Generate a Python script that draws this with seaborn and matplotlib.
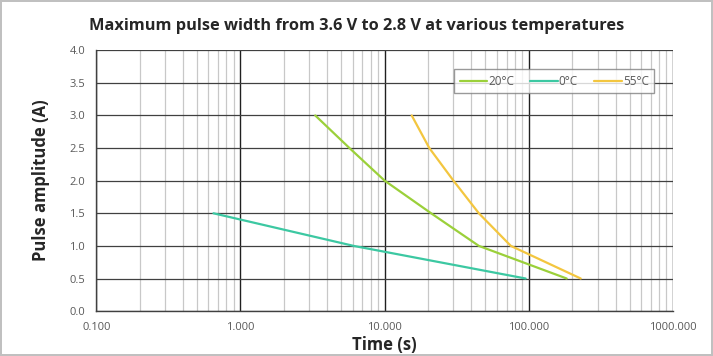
import numpy as np
import pandas as pd
import matplotlib
matplotlib.use('Agg')
import matplotlib.pyplot as plt
import matplotlib.ticker as mticker
import seaborn as sns

# values
amp_20 = [3.0, 2.5, 2.0, 1.5, 1.0, 0.5]
time_20 = [3.3, 5.7, 10.0, 21.0, 45.0, 183.0]

amp_0 = [1.5, 1.0, 0.5]
time_0 = [0.65, 6.1, 95.0]

amp_55 = [3.0, 2.5, 2.0, 1.5, 1.0, 0.5]
time_55 = [15.4, 20.4, 30.0, 45.0, 75.0, 229.0]

series_names = ['20°C', '0°C', '55°C']
series_colors = ['#9BD03A', '#3CC8A2', '#F3C63F']

frames = []
for name, t, a in zip(series_names, [time_20, time_0, time_55], [amp_20, amp_0, amp_55]):
    frames.append(pd.DataFrame({'Time': t, 'Amp': a, 'Temp': name}))
df = pd.concat(frames, ignore_index=True)

sns.set_style('white')
plt.rcParams['font.family'] = ['Open Sans', 'DejaVu Sans']

fig = plt.figure(figsize=(7.13, 3.56), dpi=100)
fig.patch.set_edgecolor('#c0c0c0')
fig.patch.set_linewidth(1.5)
ax = fig.add_axes([0.135, 0.126, 0.809, 0.733])

sns.lineplot(data=df, x='Time', y='Amp', hue='Temp', palette=series_colors,
             sort=False, estimator=None, linewidth=1.6, ax=ax)

ax.set_xscale('log')
ax.set_xlim(0.1, 1000)
ax.set_ylim(0, 4.0)
ax.set_yticks(np.arange(0, 4.01, 0.5))
ax.xaxis.set_major_locator(mticker.LogLocator(base=10, numticks=10))
ax.xaxis.set_minor_locator(mticker.LogLocator(base=10, subs=np.arange(2, 10), numticks=20))
ax.xaxis.set_major_formatter(mticker.FuncFormatter(lambda v, p: f'{v:.3f}'))
ax.xaxis.set_minor_formatter(mticker.NullFormatter())
ax.yaxis.set_major_formatter(mticker.FuncFormatter(lambda v, p: f'{v:.1f}'))

ax.grid(True, which='minor', axis='x', color='#c8c8c8', linewidth=0.9)
ax.grid(True, which='major', axis='x', color='#202020', linewidth=1.0)
ax.grid(True, which='major', axis='y', color='#404040', linewidth=0.9)
ax.set_axisbelow(True)

for side in ['top', 'right']:
    ax.spines[side].set_visible(False)
for side in ['left', 'bottom']:
    ax.spines[side].set_color('#404040')
    ax.spines[side].set_linewidth(1.0)

ax.tick_params(axis='both', which='both', length=0, labelsize=8, colors='#595959', pad=8)

ax.set_xlabel('Time (s)', fontsize=12, fontweight='bold', labelpad=2)
ax.set_ylabel('Pulse amplitude (A)', fontsize=12, fontweight='bold', labelpad=14)
fig.suptitle('Maximum pulse width from 3.6 V to 2.8 V at various temperatures',
             fontsize=11.8, fontweight='bold', x=0.5, y=0.95)

leg = ax.legend(loc='upper right', bbox_to_anchor=(0.973, 0.94), ncol=3, frameon=True,
                fontsize=8.5, handlelength=2.3, columnspacing=1.4, handletextpad=0.1,
                borderpad=0.45, borderaxespad=0.3, fancybox=False)
leg.get_frame().set_edgecolor('#808080')
leg.get_frame().set_linewidth(1.0)
for txt in leg.get_texts():
    txt.set_color('#595959')

fig.savefig('out.png', dpi=100)
